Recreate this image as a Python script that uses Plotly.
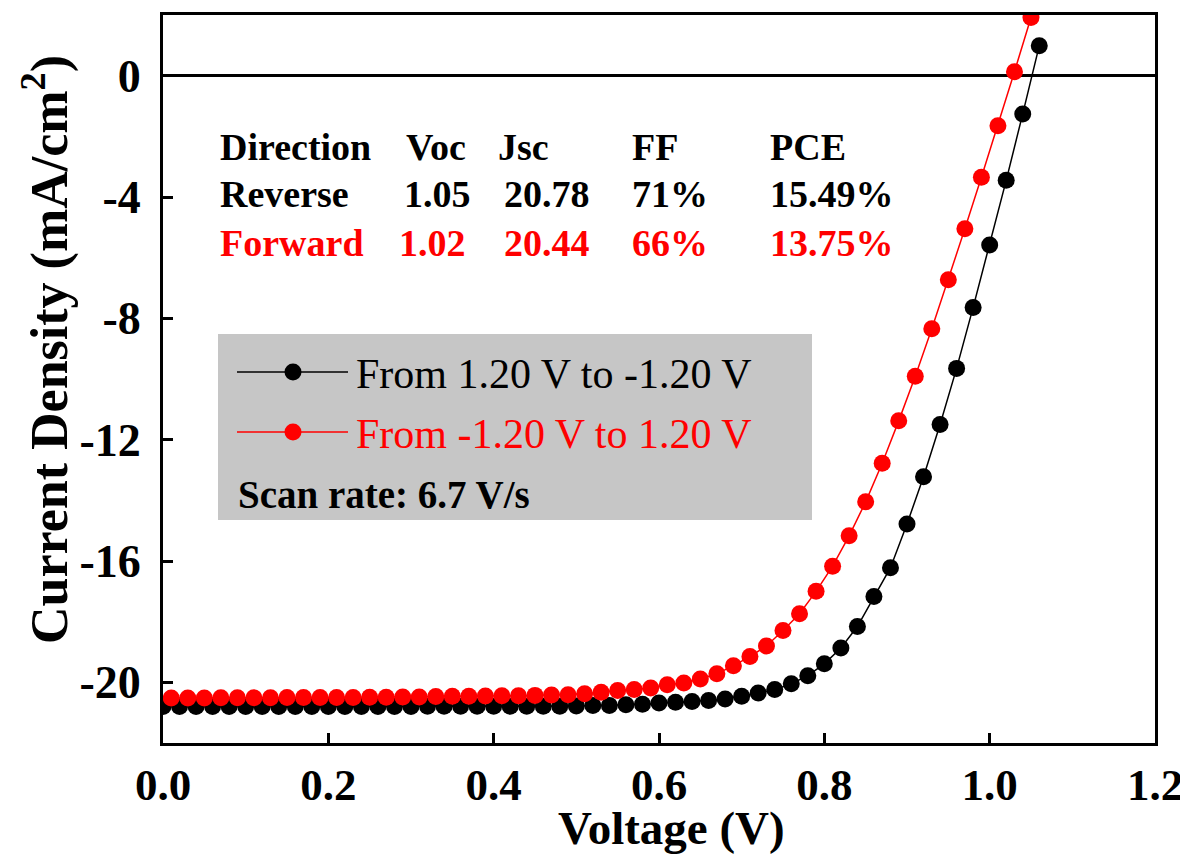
import plotly.graph_objects as go

# ---------------- data ----------------
# Reverse scan (From 1.20 V to -1.20 V), black
rev_v = [0.00, 0.02, 0.04, 0.06, 0.08, 0.10, 0.12, 0.14, 0.16, 0.18,
         0.20, 0.22, 0.24, 0.26, 0.28, 0.30, 0.32, 0.34, 0.36, 0.38,
         0.40, 0.42, 0.44, 0.46, 0.48, 0.50, 0.52, 0.54, 0.56, 0.58,
         0.60, 0.62, 0.64, 0.66, 0.68, 0.70, 0.72, 0.74, 0.76, 0.78,
         0.80, 0.82, 0.84, 0.86, 0.88, 0.90, 0.92, 0.94, 0.96, 0.98,
         1.00, 1.02, 1.04, 1.06]
rev_j = [-20.80, -20.80, -20.80, -20.80, -20.80, -20.80, -20.80, -20.80, -20.80, -20.80,
         -20.80, -20.80, -20.80, -20.80, -20.80, -20.80, -20.79, -20.79, -20.79, -20.79,
         -20.79, -20.79, -20.79, -20.79, -20.79, -20.78, -20.76, -20.76, -20.74, -20.72,
         -20.68, -20.66, -20.63, -20.60, -20.55, -20.46, -20.35, -20.24, -20.05, -19.78,
         -19.39, -18.87, -18.16, -17.17, -16.22, -14.78, -13.22, -11.50, -9.65, -7.64,
         -5.58, -3.45, -1.26, 0.99]

# Forward scan (From -1.20 V to 1.20 V), red
fwd_v = [0.01, 0.03, 0.05, 0.07, 0.09, 0.11, 0.13, 0.15, 0.17, 0.19,
         0.21, 0.23, 0.25, 0.27, 0.29, 0.31, 0.33, 0.35, 0.37, 0.39,
         0.41, 0.43, 0.45, 0.47, 0.49, 0.51, 0.53, 0.55, 0.57, 0.59,
         0.61, 0.63, 0.65, 0.67, 0.69, 0.71, 0.73, 0.75, 0.77, 0.79,
         0.81, 0.83, 0.85, 0.87, 0.89, 0.91, 0.93, 0.95, 0.97, 0.99,
         1.01, 1.03, 1.05]
fwd_j = [-20.52, -20.52, -20.52, -20.51, -20.51, -20.51, -20.51, -20.50, -20.50, -20.50,
         -20.50, -20.50, -20.49, -20.49, -20.48, -20.48, -20.47, -20.46, -20.46, -20.45,
         -20.44, -20.44, -20.43, -20.42, -20.41, -20.38, -20.33, -20.27, -20.24, -20.19,
         -20.08, -20.02, -19.89, -19.72, -19.45, -19.15, -18.80, -18.29, -17.74, -17.00,
         -16.17, -15.17, -14.05, -12.78, -11.38, -9.91, -8.34, -6.73, -5.05, -3.35,
         -1.65, 0.13, 1.92]

x_ticks = [0.0, 0.2, 0.4, 0.6, 0.8, 1.0, 1.2]
x_tick_text = ["0.0", "0.2", "0.4", "0.6", "0.8", "1.0", "1.2"]
y_ticks = [0, -4, -8, -12, -16, -20]
y_tick_text = ["0", "-4", "-8", "-12", "-16", "-20"]

series_names = ["From 1.20 V to -1.20 V", "From -1.20 V to 1.20 V"]
table_header = ["Direction", "Voc", "Jsc", "FF", "PCE"]
table_reverse = ["Reverse", "1.05", "20.78", "71%", "15.49%"]
table_forward = ["Forward", "1.02", "20.44", "66%", "13.75%"]
scan_rate_text = "Scan rate: 6.7 V/s"

# ---------------- layout helpers ----------------
# page body has an 8 px margin, so the figure is shrunk/shifted to fill the window
OFF = 8
VW, VH = 1188, 854
W, H = VW - OFF, VH - OFF
L, R, T, B = 163, 1155, 15, 743          # plot area in window pixels
FONT = "Liberation Serif, Times New Roman, serif"


def px(xp):
    return (xp - L) / (R - L)


def py(yp):
    return (B - yp) / (B - T)


fig = go.Figure()
fig.add_trace(go.Scatter(x=rev_v, y=rev_j, mode="lines+markers", name=series_names[0],
                         line=dict(color="black", width=1.5),
                         marker=dict(color="black", size=17), showlegend=False))
fig.add_trace(go.Scatter(x=fwd_v, y=fwd_j, mode="lines+markers", name=series_names[1],
                         line=dict(color="#ff0000", width=1.5),
                         marker=dict(color="#ff0000", size=17), showlegend=False))

shapes = []
annotations = []

# grey legend box
shapes.append(dict(type="rect", xref="paper", yref="paper",
                   x0=px(218), x1=px(812), y0=py(520), y1=py(334),
                   fillcolor="#c6c6c6", line=dict(width=0), layer="below"))
# legend samples
for yy, col in [(372, "black"), (432, "#ff0000")]:
    shapes.append(dict(type="line", xref="paper", yref="paper",
                       x0=px(237), x1=px(348), y0=py(yy), y1=py(yy),
                       line=dict(color=col, width=1.5)))
    r = 8.5
    shapes.append(dict(type="circle", xref="paper", yref="paper",
                       x0=px(293 - r), x1=px(293 + r), y0=py(yy + r), y1=py(yy - r),
                       fillcolor=col, line=dict(width=0)))

annotations.append(dict(text=series_names[0], x=px(354), y=py(374), xref="paper", yref="paper",
                        xanchor="left", yanchor="middle", showarrow=False,
                        font=dict(family=FONT, size=42, color="black")))
annotations.append(dict(text=series_names[1], x=px(354), y=py(434), xref="paper", yref="paper",
                        xanchor="left", yanchor="middle", showarrow=False,
                        font=dict(family=FONT, size=42, color="#ff0000")))
annotations.append(dict(text="<b>" + scan_rate_text + "</b>", x=px(236), y=py(494),
                        xref="paper", yref="paper", xanchor="left", yanchor="middle",
                        showarrow=False, font=dict(family=FONT, size=39, color="black")))

# parameter table
col_x_rows = [[218, 404, 496, 630, 768], [218, 402, 502, 630, 768], [218, 397, 502, 630, 768]]
row_y = [147, 194, 243]
row_col = ["black", "black", "#ff0000"]
for ri, row in enumerate([table_header, table_reverse, table_forward]):
    for ci, txt in enumerate(row):
        annotations.append(dict(text="<b>" + txt + "</b>", x=px(col_x_rows[ri][ci]), y=py(row_y[ri]),
                                xref="paper", yref="paper", xanchor="left", yanchor="middle",
                                showarrow=False,
                                font=dict(family=FONT, size=38, color=row_col[ri])))

# axis titles
annotations.append(dict(text="<b>Voltage (V)</b>", x=px(671), y=py(828), xref="paper", yref="paper",
                        xanchor="center", yanchor="middle", showarrow=False,
                        font=dict(family=FONT, size=47, color="black")))
annotations.append(dict(text="<b>Current Density (mA/cm<sup>2</sup>)</b>", x=px(46), y=py(350),
                        xref="paper", yref="paper", xanchor="center", yanchor="middle",
                        textangle=-90, showarrow=False,
                        font=dict(family=FONT, size=52, color="black")))

fig.update_layout(
    width=W, height=H,
    margin=dict(l=L - OFF, r=W - (R - OFF), t=T - OFF, b=H - (B - OFF), autoexpand=False),
    paper_bgcolor="white", plot_bgcolor="white",
    font=dict(family=FONT, color="black"),
    shapes=shapes, annotations=annotations,
    showlegend=False,
)
fig.update_xaxes(range=[0, 1.2], tickvals=x_ticks, ticktext=["<b>" + t + "</b>" for t in x_tick_text],
                 showgrid=False, zeroline=False,
                 showline=True, linecolor="black", linewidth=3, mirror=True,
                 ticks="inside", ticklen=10, tickwidth=3, tickcolor="black",
                 ticklabelstandoff=0,
                 tickfont=dict(family=FONT, size=45, color="black"))
fig.update_yaxes(range=[-22, 2], tickvals=y_ticks, ticktext=["<b>" + t + "</b>" for t in y_tick_text],
                 showgrid=False, zeroline=True, zerolinecolor="black", zerolinewidth=3,
                 showline=True, linecolor="black", linewidth=3, mirror=True,
                 ticks="inside", ticklen=10, tickwidth=3, tickcolor="black",
                 ticklabelstandoff=10,
                 tickfont=dict(family=FONT, size=46, color="black"))

fig.write_html("out.html")
